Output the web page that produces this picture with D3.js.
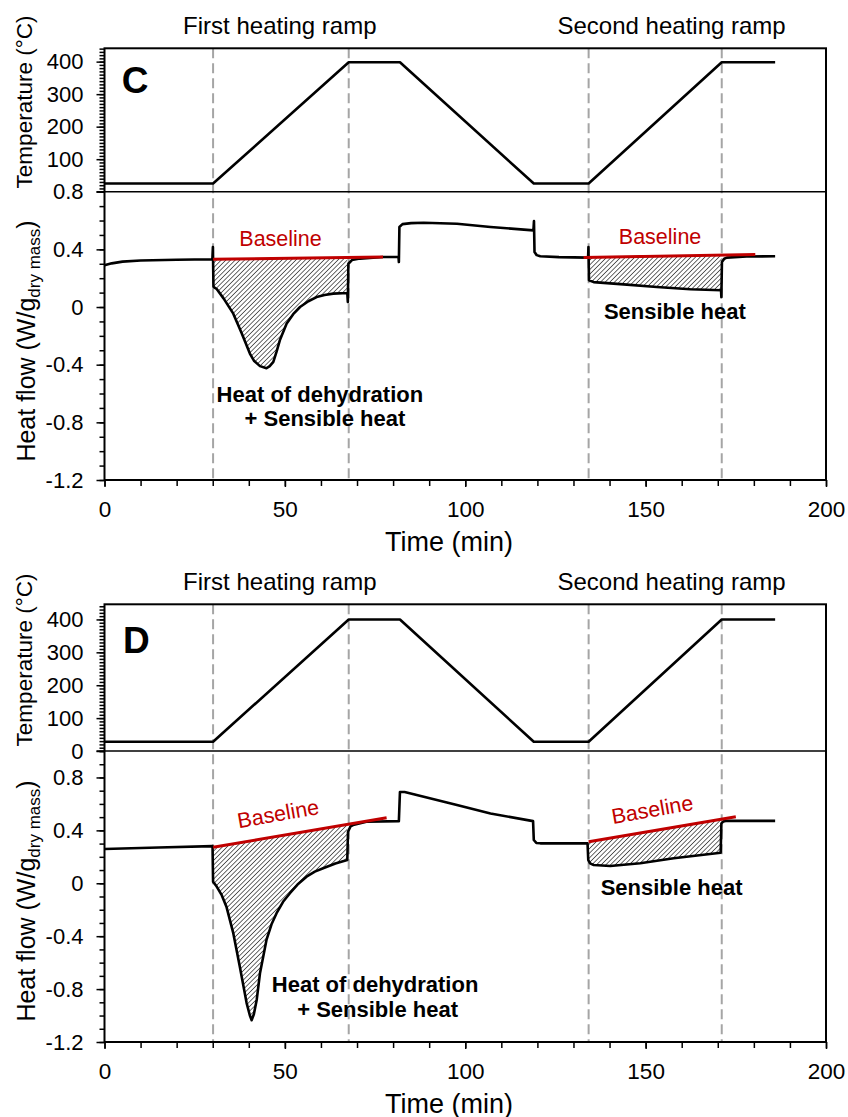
<!DOCTYPE html>
<html><head><meta charset="utf-8">
<script src="https://cdn.jsdelivr.net/npm/d3@7"></script>
<style>
body{margin:0;background:#fff}
svg{display:block}
text{font-family:"Liberation Sans",Arial,sans-serif}
</style>
</head><body>
<svg id="chart" width="848" height="1117"></svg>
<script>
// ---------------- data ----------------
const tempTime = [0, 30.1, 67.7, 81.9, 119.0, 134.2, 171.1, 185.9];
const tempC    = [25, 25, 398, 398, 25, 25, 398, 398];
const tempD    = [28, 28, 400, 400, 28, 28, 400, 400];

const flowTimeC = [0,2,5,10,20,29.9,30.05,30.2,31.1,33.0,35.7,38.0,40.3,41.5,43.1,44.9,45.8,46.8,47.7,48.6,50.5,52.3,54.2,56.5,58.8,61.0,63.4,67.3,67.45,67.6,68.6,70.8,77.2,81.5,81.6,81.75,82.6,85,88.5,97.7,107,118.9,119.05,119.2,119.8,120.8,126,134.05,134.15,134.3,135.6,143.9,153.1,162.4,170.9,171.0,171.15,171.8,172.5,178,185.9];
const flowC     = [0.289,0.303,0.315,0.323,0.328,0.331,0.416,0.14,0.125,0.06,-0.046,-0.18,-0.323,-0.375,-0.41,-0.425,-0.41,-0.381,-0.31,-0.231,-0.115,-0.05,0.0,0.04,0.069,0.084,0.093,0.097,0.035,0.30,0.326,0.336,0.347,0.347,0.312,0.555,0.575,0.582,0.585,0.578,0.555,0.532,0.596,0.381,0.36,0.352,0.346,0.343,0.416,0.185,0.173,0.157,0.139,0.123,0.116,0.069,0.312,0.335,0.343,0.35,0.352];

const flowTimeD = [0,15,29.95,30.1,31.1,32.5,33.8,35.7,37.5,39.4,40.3,40.8,41.4,42.2,43.1,44.9,46.3,47.7,49.5,51.4,53.5,56.0,58.3,60.6,64,67.3,67.5,68.2,68.9,72.6,81.6,81.9,83.2,88.5,97.7,107,118.8,119.0,119.7,120.8,133.9,134.1,134.6,135.6,140.2,148.5,157.8,170.8,171.0,171.6,172.5,185.9];
const flowD     = [0.259,0.27,0.281,0.012,-0.025,-0.09,-0.177,-0.377,-0.629,-0.906,-1.0,-1.035,-0.99,-0.88,-0.68,-0.428,-0.31,-0.226,-0.14,-0.075,-0.01,0.05,0.088,0.113,0.15,0.176,0.39,0.43,0.44,0.465,0.47,0.69,0.69,0.654,0.591,0.528,0.47,0.327,0.305,0.302,0.302,0.176,0.15,0.138,0.131,0.151,0.189,0.231,0.453,0.468,0.472,0.472];

const rampTimes = [30.1, 67.7, 134.2, 171.1];

const baseC1Time = [30.1, 77.2],  baseC1 = [0.331, 0.347];
const baseC2Time = [132.8, 180.4], baseC2 = [0.343, 0.365];
const baseD1Time = [30.1, 78.2],  baseD1 = [0.272, 0.495];
const baseD2Time = [134.2, 175.0], baseD2 = [0.314, 0.503];

const hatchC = [[30.1, 67.35], [134.2, 170.95]];
const hatchD = [[30.05, 67.4], [134.05, 170.9]];

const timeTicks = [0, 50, 100, 150, 200];
const tempTicksC = [100, 200, 300, 400];
const tempTicksD = [0, 100, 200, 300, 400];
const flowTicks = [0.8, 0.4, 0, -0.4, -0.8, -1.2];

// ---------------- layout ----------------
const svg = d3.select("#chart");
const x = d3.scaleLinear().domain([0, 200]).range([104.5, 826]);
const FONT = '"Liberation Sans",Arial,sans-serif';

const defs = svg.append("defs");
const pat = defs.append("pattern").attr("id","hatch").attr("patternUnits","userSpaceOnUse")
  .attr("width",3.3).attr("height",3.3).attr("patternTransform","rotate(45)");
pat.append("rect").attr("width",3.3).attr("height",3.3).attr("fill","#fff");
pat.append("line").attr("x1",0).attr("y1",0).attr("x2",0).attr("y2",3.3)
  .attr("stroke","#2a2a2a").attr("stroke-width",1.4);

function zip(a,b){ return a.map((d,i)=>[d,b[i]]); }

function drawPanel(cfg){
  const g = svg.append("g");
  const yT = d3.scaleLinear().domain([0, cfg.tempMax]).range([cfg.split, cfg.top]);
  const yF = d3.scaleLinear().domain([-1.2, cfg.flowMax]).range([cfg.bottom, cfg.split]);

  // dashed ramp markers
  g.selectAll(".ramp").data(rampTimes).enter().append("line")
    .attr("x1", d=>x(d)).attr("x2", d=>x(d))
    .attr("y1", cfg.top).attr("y2", cfg.bottom)
    .attr("stroke","#a5a5a5").attr("stroke-width",2).attr("stroke-dasharray","10,5");

  // hatch areas
  const pts = zip(cfg.flowTime, cfg.flow);
  cfg.hatch.forEach((r,i)=>{
    const bt = cfg.bases[i][0], bv = cfg.bases[i][1];
    const bl = d3.scaleLinear().domain(bt).range(bv);
    const seg = pts.filter(p=>p[0]>=r[0] && p[0]<=r[1]);
    const area = d3.area().x(p=>x(p[0])).y0(p=>yF(bl(p[0]))).y1(p=>yF(p[1]));
    g.append("path").datum(seg).attr("d",area).attr("fill","url(#hatch)");
  });

  // temperature
  g.append("path").datum(zip(tempTime, cfg.temp))
    .attr("d", d3.line().x(p=>x(p[0])).y(p=>yT(p[1])))
    .attr("fill","none").attr("stroke","#000").attr("stroke-width",2.6).attr("stroke-linejoin","round");
  // heat flow
  g.append("path").datum(pts)
    .attr("d", d3.line().x(p=>x(p[0])).y(p=>yF(p[1])))
    .attr("fill","none").attr("stroke","#000").attr("stroke-width",2.6).attr("stroke-linejoin","round");

  // baselines
  cfg.bases.forEach(b=>{
    g.append("path").datum(zip(b[0],b[1]))
      .attr("d", d3.line().x(p=>x(p[0])).y(p=>yF(p[1])))
      .attr("fill","none").attr("stroke","#c00000").attr("stroke-width",3);
  });

  // frame
  g.append("rect").attr("x",x(0)).attr("y",cfg.top).attr("width",x(200)-x(0)).attr("height",cfg.bottom-cfg.top)
    .attr("fill","none").attr("stroke","#000").attr("stroke-width",2);
  g.append("line").attr("x1",x(0)-8).attr("x2",x(200)).attr("y1",cfg.split).attr("y2",cfg.split)
    .attr("stroke","#000").attr("stroke-width",1.6);

  // axes
  const fmtF = d => d===0 ? "0" : d.toFixed(1);
  function styleAxis(sel, fs){
    sel.select(".domain").remove();
    sel.selectAll("line").attr("stroke","#000").attr("stroke-width",1.5);
    sel.selectAll("text").attr("font-family",FONT).attr("font-size",fs).attr("fill","#000");
  }
  const gT = g.append("g").attr("transform",`translate(${x(0)},0)`);
  gT.append("g").call(d3.axisLeft(yT).tickValues(d3.range(0, cfg.tempMax, 10)).tickSize(5).tickFormat("")).call(s=>styleAxis(s,21));
  gT.append("g").call(d3.axisLeft(yT).tickValues(cfg.tempTicks).tickSize(8).tickPadding(13).tickFormat(d3.format("d"))).call(s=>styleAxis(s,22));
  const gF = g.append("g").attr("transform",`translate(${x(0)},0)`);
  gF.append("g").call(d3.axisLeft(yF).tickValues(d3.range(-12, Math.round(cfg.flowMax*10)+1, 1).map(d=>d/10)).tickSize(5).tickFormat("")).call(s=>styleAxis(s,21));
  gF.append("g").call(d3.axisLeft(yF).tickValues(flowTicks).tickSize(8).tickPadding(13).tickFormat(fmtF)).call(s=>styleAxis(s,22));
  const gX = g.append("g").attr("transform",`translate(0,${cfg.bottom})`);
  gX.append("g").call(d3.axisBottom(x).tickValues(d3.range(0,201,10)).tickSize(6).tickFormat("")).call(s=>styleAxis(s,22));
  gX.append("g").call(d3.axisBottom(x).tickValues(timeTicks).tickSize(7).tickPadding(14).tickFormat(d3.format("d"))).call(s=>styleAxis(s,22.5));

  // axis titles
  svg.append("text").attr("x", 449).attr("y", cfg.bottom + 70.5)
    .attr("text-anchor","middle").attr("font-size",27).text("Time (min)");
  svg.append("text").attr("transform",`translate(32,${cfg.tempLabelY}) rotate(-90)`)
    .attr("text-anchor","middle").attr("font-size",22.5).text("Temperature (°C)");
  const hf = svg.append("text").attr("transform",`translate(35,${cfg.flowLabelY}) rotate(-90)`)
    .attr("text-anchor","middle").attr("font-size",25);
  hf.append("tspan").text("Heat flow (W/g");
  hf.append("tspan").attr("font-size",17).attr("dy",5).text("dry mass");
  hf.append("tspan").attr("dy",-5).text(")");

  // ramp titles
  svg.append("text").attr("x",x(48.6)).attr("y",cfg.top-14).attr("text-anchor","middle")
    .attr("font-size",24).text("First heating ramp");
  svg.append("text").attr("x",x(157.2)).attr("y",cfg.top-14).attr("text-anchor","middle")
    .attr("font-size",24).text("Second heating ramp");

  // panel letter
  svg.append("text").attr("x",x(cfg.letterPos[0])).attr("y",yT(cfg.letterPos[1]))
    .attr("font-size",37).attr("font-weight","bold").text(cfg.letter);

  // annotations
  cfg.notes.forEach(n=>{
    svg.append("text")
      .attr("transform",`translate(${x(n.t)},${yF(n.v)}) rotate(${n.rot||0})`)
      .attr("text-anchor","middle").attr("font-size",n.bold?22:21.5)
      .attr("font-weight",n.bold?"bold":"normal").attr("fill",n.color||"#000").text(n.text);
  });
}

drawPanel({
  top:48.3, split:191.7, bottom:480, tempMax:441, flowMax:0.8,
  temp:tempC, flowTime:flowTimeC, flow:flowC,
  bases:[[baseC1Time,baseC1],[baseC2Time,baseC2]], hatch:hatchC,
  tempTicks:tempTicksC, tempLabelY:102, flowLabelY:341,
  letter:"C", letterPos:[4.8, 302],
  notes:[
    {t:48.8, v:0.423, text:"Baseline", color:"#c00000"},
    {t:154.0, v:0.435, text:"Baseline", color:"#c00000"},
    {t:59.7, v:-0.659, text:"Heat of dehydration", bold:true},
    {t:61.1, v:-0.826, text:"+ Sensible heat", bold:true},
    {t:158.1, v:-0.080, text:"Sensible heat", bold:true}
  ]
});
drawPanel({
  top:604.3, split:751, bottom:1042, tempMax:446, flowMax:1.0,
  temp:tempD, flowTime:flowTimeD, flow:flowD,
  bases:[[baseD1Time,baseD1],[baseD2Time,baseD2]], hatch:hatchD,
  tempTicks:tempTicksD, tempLabelY:660, flowLabelY:901,
  letter:"D", letterPos:[5.1, 299],
  notes:[
    {t:48.5, v:0.471, text:"Baseline", color:"#c00000", rot:-10},
    {t:152.2, v:0.503, text:"Baseline", color:"#c00000", rot:-10},
    {t:75.0, v:-0.820, text:"Heat of dehydration", bold:true},
    {t:75.7, v:-1.009, text:"+ Sensible heat", bold:true},
    {t:157.2, v:-0.088, text:"Sensible heat", bold:true}
  ]
});
</script>
</body></html>
